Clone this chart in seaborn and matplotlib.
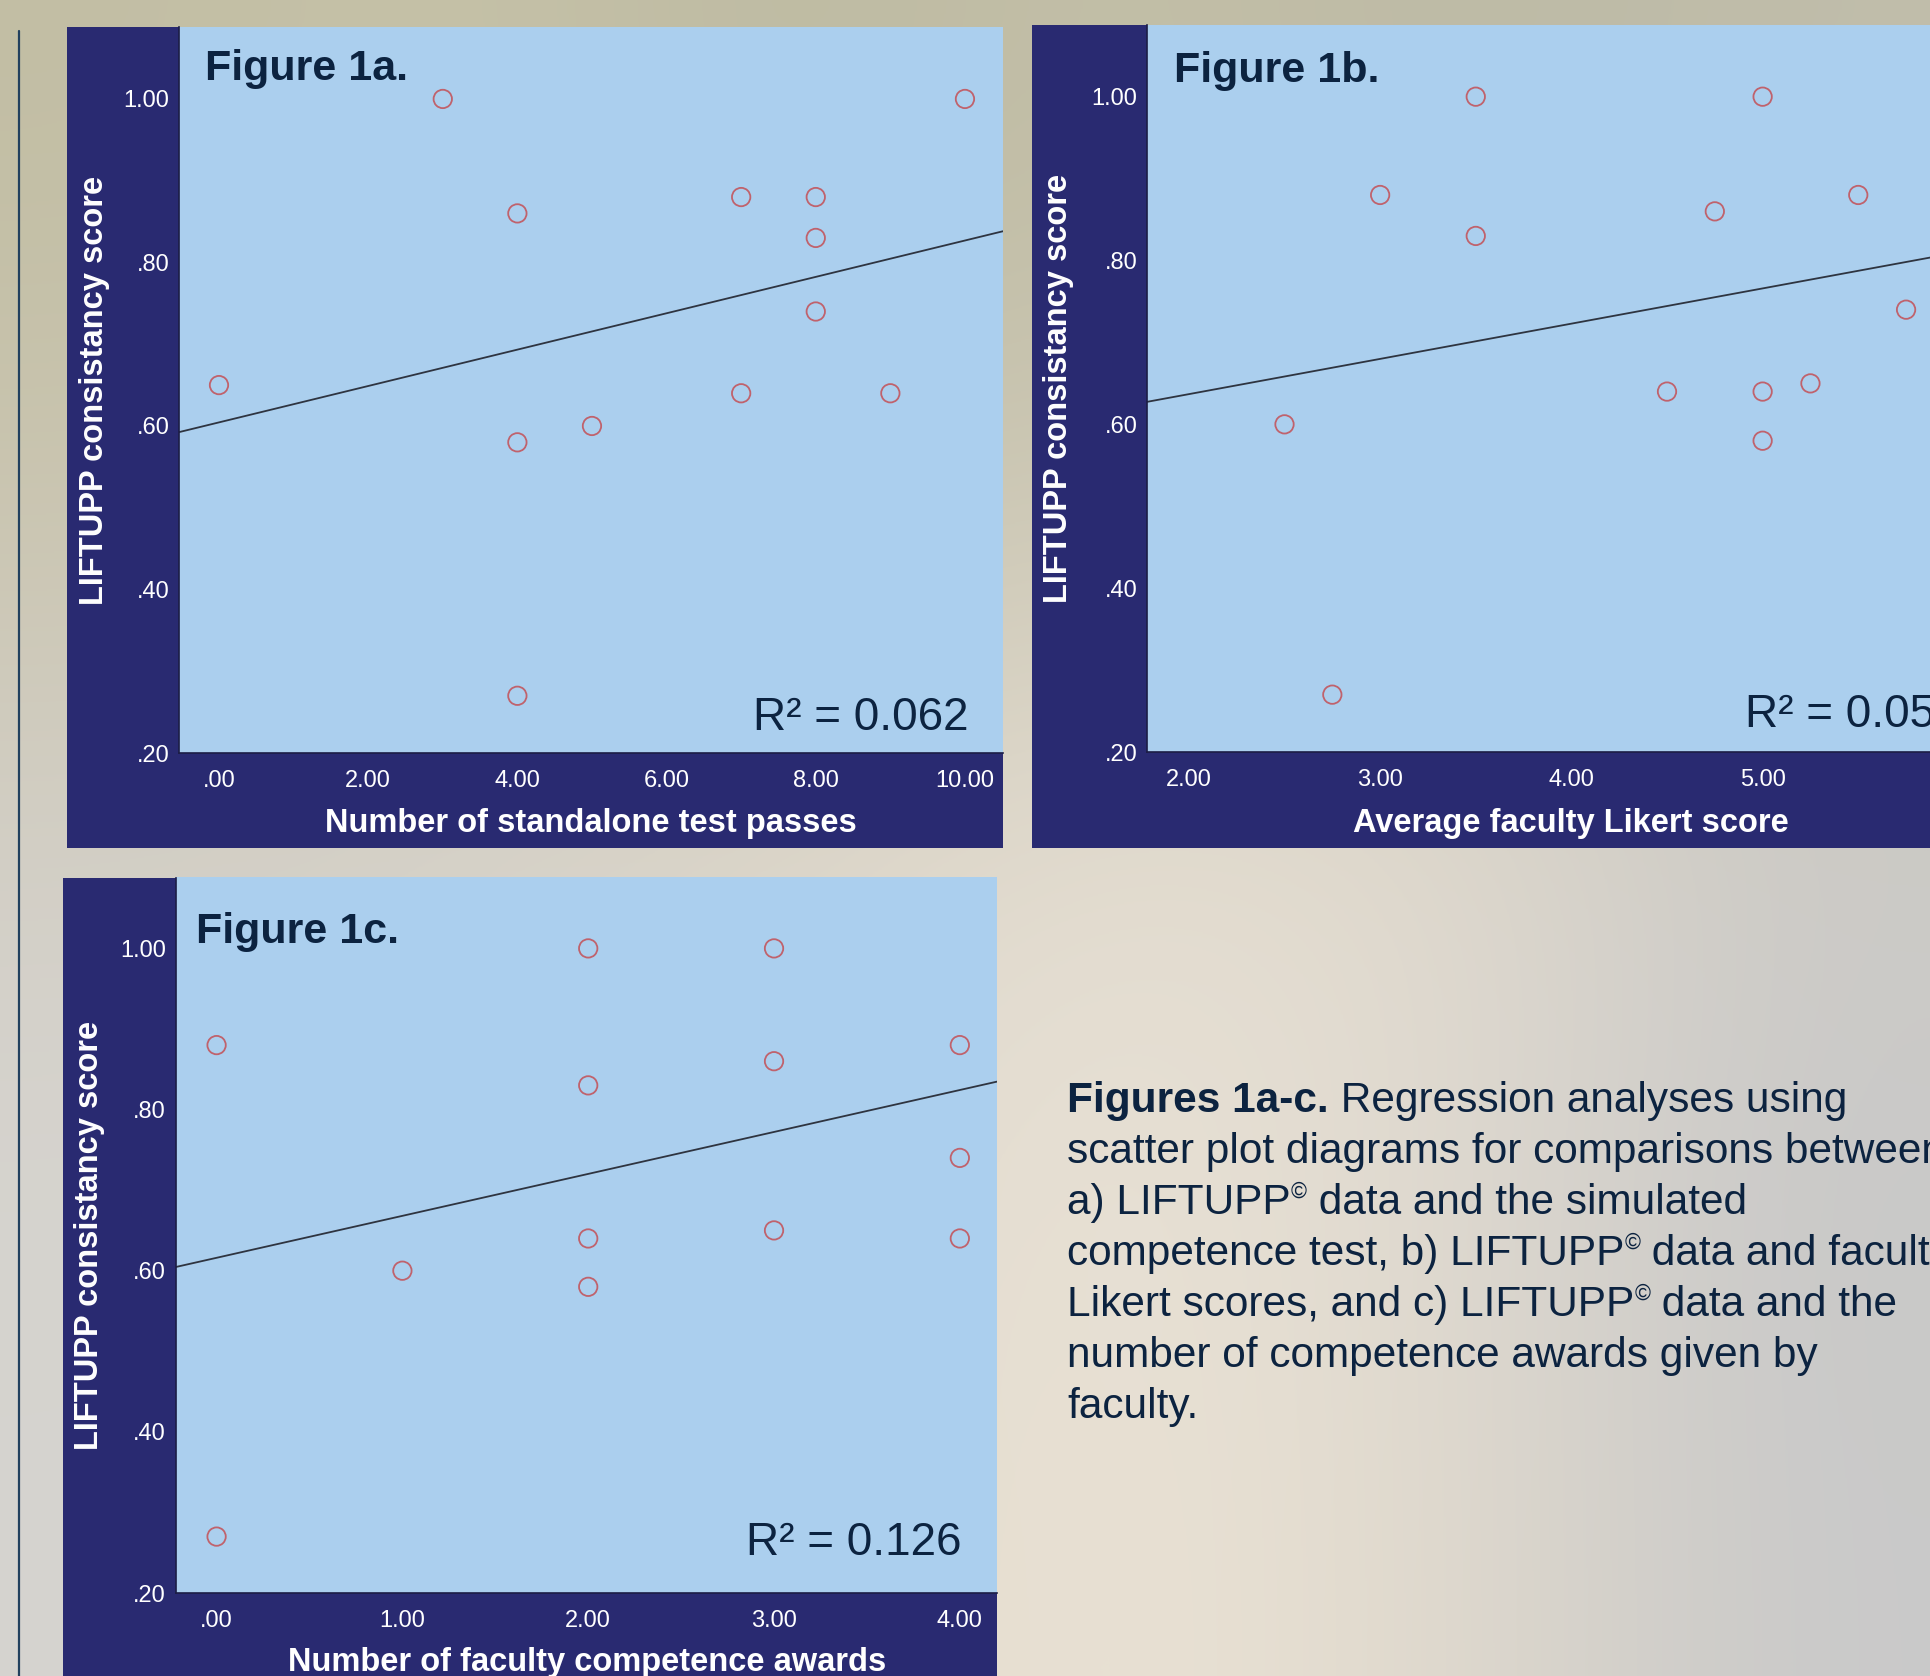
import numpy as np
import matplotlib
matplotlib.use("Agg")
import matplotlib.pyplot as plt
import matplotlib.colors as mcolors
from matplotlib.patches import Rectangle
from matplotlib.font_manager import FontProperties
import seaborn as sns

# ---------------- data ----------------
tests_a = [0, 3, 4, 4, 4, 5, 7, 7, 8, 8, 8, 9, 10]
score_a = [0.65, 1.00, 0.86, 0.58, 0.27, 0.60, 0.88, 0.64, 0.88, 0.83, 0.74, 0.64, 1.00]

likert_b = [2.50, 2.75, 3.00, 3.50, 3.50, 4.50, 4.75, 5.00, 5.00, 5.00, 5.25, 5.50, 5.75]
score_b = [0.60, 0.27, 0.88, 1.00, 0.83, 0.64, 0.86, 1.00, 0.64, 0.58, 0.65, 0.88, 0.74]

awards_c = [0, 0, 1, 2, 2, 2, 2, 3, 3, 3, 4, 4, 4]
score_c = [0.88, 0.27, 0.60, 1.00, 0.83, 0.64, 0.58, 1.00, 0.86, 0.65, 0.88, 0.74, 0.64]

panel_titles = ["Figure 1a.", "Figure 1b.", "Figure 1c."]
x_labels = ["Number of standalone test passes",
            "Average faculty Likert score",
            "Number of faculty competence awards"]
y_label = "LIFTUPP consistancy score"
r2_labels = ["R\u00b2 = 0.062", "R\u00b2 = 0.053", "R\u00b2 = 0.126"]

y_ticks = [0.2, 0.4, 0.6, 0.8, 1.0]
y_tick_labels = [".20", ".40", ".60", ".80", "1.00"]
a_x_ticks = [0, 2, 4, 6, 8, 10]
a_x_tick_labels = [".00", "2.00", "4.00", "6.00", "8.00", "10.00"]
b_x_ticks = [2, 3, 4, 5]
b_x_tick_labels = ["2.00", "3.00", "4.00", "5.00"]
c_x_ticks = [0, 1, 2, 3, 4]
c_x_tick_labels = [".00", "1.00", "2.00", "3.00", "4.00"]

caption_lines = [
    [("Figures 1a-c.", "bold"), (" Regression analyses using", "normal")],
    [("scatter plot diagrams for comparisons between", "normal")],
    [("a) LIFTUPP", "normal"), ("\u00a9", "sup"), (" data and the simulated", "normal")],
    [("competence test, b) LIFTUPP", "normal"), ("\u00a9", "sup"), (" data and faculty", "normal")],
    [("Likert scores, and c) LIFTUPP", "normal"), ("\u00a9", "sup"), (" data and the", "normal")],
    [("number of competence awards given by", "normal")],
    [("faculty.", "normal")],
]

# ---------------- style ----------------
sns.set_style("white")
FAM = ["Liberation Sans", "DejaVu Sans"]
plt.rcParams["font.family"] = FAM

NAVY = "#292a71"
LIGHT = "#abcfee"
INK = "#0c2340"
MARK = "#c0626c"

W, H = 1930, 1676
fig = plt.figure(figsize=(W / 100, H / 100), dpi=100)
fig.patch.set_facecolor("#d8d4cc")


def frect(x0, y0, x1, y1):
    return [x0 / W, 1 - y1 / H, (x1 - x0) / W, (y1 - y0) / H]


def fx(x):
    return x / W


def fy(y):
    return 1 - y / H


# background (faded photo approximation)
bg_hex = [
    ["#c2bea4", "#c6c2a8", "#bcb9a1", "#c4c0a8", "#bcb9a4", "#c0bdaa"],
    ["#cac5b0", "#cdc8b4", "#c8c4b0", "#cfcab8", "#c9c6b6", "#c6c4b8"],
    ["#d3cfc6", "#d6d2ca", "#dcd6ca", "#e5ded2", "#e2dbcf", "#cdcbc7"],
    ["#d6d4cf", "#d8d5cf", "#e2dbcf", "#e9e2d6", "#dfd9cf", "#c8c8c8"],
    ["#d5d3cf", "#d8d5d0", "#e3dbcc", "#ebe3d6", "#e0d9cc", "#c9c9c9"],
]
bg = np.array([[mcolors.to_rgb(c) for c in row] for row in bg_hex])
bg_ax = fig.add_axes([0, 0, 1, 1], zorder=-10)
bg_ax.imshow(bg, extent=[0, 1, 0, 1], aspect="auto", interpolation="bicubic")
bg_ax.set_axis_off()

# left thin vertical rule
fig.add_artist(plt.Line2D([fx(18.5), fx(18.5)], [fy(31), fy(1680)],
                          transform=fig.transFigure, color="#21405e", lw=1.6, zorder=-4))

panels = [
    dict(navy=(66.5, 27, 1003, 848), plot=(179, 27, 1003, 753), xlim=(-0.536, 10.51),
         x=tests_a, y=score_a, xt=a_x_ticks, xtl=a_x_tick_labels,
         title=(205, 80), r2=(753, 730), ylab=(95, 390), xlab=(591, 823)),
    dict(navy=(1031.5, 24.6, 1995, 848), plot=(1147, 24.6, 1995, 752), xlim=(1.781, 6.215),
         x=likert_b, y=score_b, xt=b_x_ticks, xtl=b_x_tick_labels,
         title=(1174, 82), r2=(1745, 727), ylab=(1059, 388), xlab=(1571, 823)),
    dict(navy=(63.3, 877.5, 997, 1700), plot=(175.7, 877.5, 997, 1593), xlim=(-0.22, 4.20),
         x=awards_c, y=score_c, xt=c_x_ticks, xtl=c_x_tick_labels,
         title=(196.5, 943), r2=(746, 1555), ylab=(90, 1235), xlab=(587, 1662)),
]

for i, p in enumerate(panels):
    x0, y0, x1, y1 = p["navy"]
    fig.add_artist(Rectangle((fx(x0), fy(y1)), (x1 - x0) / W, (y1 - y0) / H,
                             transform=fig.transFigure, facecolor=NAVY,
                             edgecolor="none", zorder=-5))
    ax = fig.add_axes(frect(*p["plot"]))
    ax.set_facecolor(LIGHT)
    ax.set_xlim(*p["xlim"])
    ax.set_ylim(0.2, 1.088)
    sns.regplot(x=np.array(p["x"], dtype=float), y=np.array(p["y"], dtype=float),
                ax=ax, ci=None, truncate=False,
                scatter_kws=dict(facecolors="none", edgecolors=MARK, s=175,
                                 linewidths=1.3, alpha=1, zorder=3),
                line_kws=dict(color="#2e3440", lw=1.3, zorder=2))
    ax.set_xlim(*p["xlim"])
    ax.set_ylim(0.2, 1.088)
    ax.set_xlabel("")
    ax.set_ylabel("")
    ax.set_xticks(p["xt"])
    ax.set_xticklabels(p["xtl"])
    ax.set_yticks(y_ticks)
    ax.set_yticklabels(y_tick_labels)
    ax.tick_params(axis="both", colors="#d8dcf0", labelcolor="white",
                   labelsize=17, width=0.9, direction="out")
    ax.tick_params(axis="x", length=6, pad=6)
    ax.tick_params(axis="y", length=5.5, pad=1.5)
    for s in ["top", "right"]:
        ax.spines[s].set_visible(False)
    for s in ["bottom", "left"]:
        ax.spines[s].set_color("#1c1d45")
        ax.spines[s].set_linewidth(1.2)

    tx, ty = p["title"]
    fig.text(fx(tx), fy(ty), panel_titles[i], ha="left", va="baseline",
             fontsize=31, fontweight="bold", color=INK)
    rx, ry = p["r2"]
    fig.text(fx(rx), fy(ry), r2_labels[i], ha="left", va="baseline",
             fontsize=33, color=INK)
    lx, ly = p["ylab"]
    fig.text(fx(lx), fy(ly), y_label, ha="center", va="center", rotation=90,
             fontsize=23.5, fontweight="bold", color="white")
    bx, by = p["xlab"]
    fig.text(fx(bx), fy(by), x_labels[i], ha="center", va="center",
             fontsize=23.5, fontweight="bold", color="white")

# ---------------- caption ----------------
fig.canvas.draw()
renderer = fig.canvas.get_renderer()
CAP_SIZE = 30.5
SUP_SIZE = 15.5


def text_width(s, size, weight):
    fp = FontProperties(family=FAM, size=size, weight=weight)
    w1, _, _ = renderer.get_text_width_height_descent("|" + s + "|", fp, ismath=False)
    w2, _, _ = renderer.get_text_width_height_descent("||", fp, ismath=False)
    return w1 - w2


cap_x = 1067
base_y = 1112
line_step = 51
for li, runs in enumerate(caption_lines):
    x = cap_x
    y = base_y + li * line_step
    for s, kind in runs:
        if kind == "sup":
            size, weight, yy = SUP_SIZE, "normal", y - 16
        else:
            size, weight, yy = CAP_SIZE, kind, y
        fig.text(fx(x), fy(yy), s, ha="left", va="baseline", fontsize=size,
                 fontweight=weight, color=INK)
        x += text_width(s, size, weight) * 100 / fig.dpi

fig.savefig("out.png", dpi=100)
